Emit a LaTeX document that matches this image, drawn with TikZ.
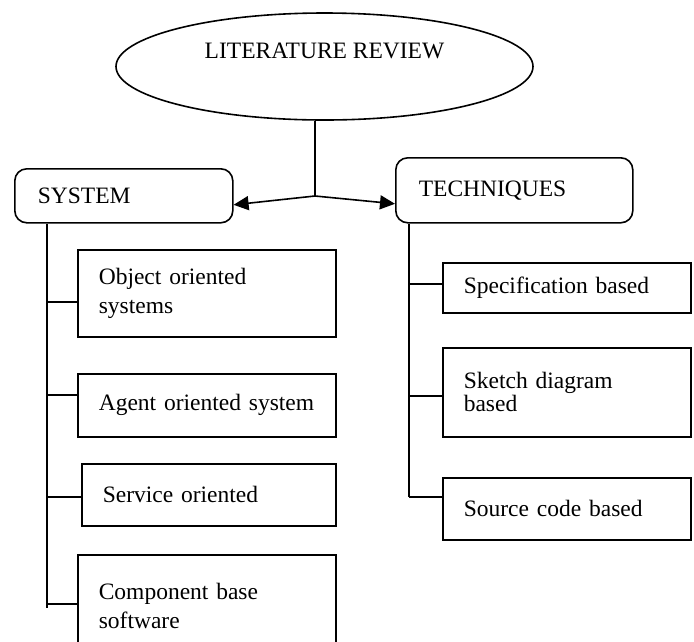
\documentclass[tikz,border=0pt]{standalone}
\usepackage{fontspec}
\setmainfont{Liberation Serif}
\usetikzlibrary{shapes.geometric,arrows.meta,calc}

\begin{document}
\begin{tikzpicture}[
    x=1pt, y=-1pt,
    line width=1.6pt,
    every node/.style={font=\fontsize{23.5}{29}\selectfont},
    review/.style={ellipse, draw, minimum width=417pt, minimum height=107pt, text depth=32.5pt},
    head/.style={rectangle, draw, rounded corners=12pt, anchor=north west, align=left, inner xsep=23pt, inner ysep=0pt},
    item/.style={rectangle, draw, anchor=north west, align=left, inner xsep=21pt, inner ysep=0pt},
    arrow/.style={-{Triangle[length=15pt, width=14pt]}}
]
\useasboundingbox (0,0) rectangle (694,641);

% top
\node[review] (lit) at (324.5,66.5) {LITERATURE REVIEW};
\coordinate (hub) at (315,196);

% two heads
\node[head, text width=172pt, minimum height=54pt] (sys) at (14,168) {SYSTEM};
\node[head, text width=191pt, minimum height=65pt] (tec) at (395,157) {TECHNIQUES};

% systems column
\node[item, text width=216pt, minimum height=87pt] (obj) at (77,249) {Object oriented\\systems};
\node[item, text width=216pt, minimum height=63pt] (agent) at (77,373) {Agent oriented system};
\node[item, text width=212pt, minimum height=62pt] (serv) at (81,463) {Service oriented};
\node[item, text width=216pt, minimum height=102pt] (comp) at (77,554) {Component base\\software};

% techniques column
\node[item, text width=206pt, minimum height=50pt] (spec) at (442,262) {Specification based};
\node[item, text width=206pt, minimum height=89pt] (sketch) at (442,347) {Sketch diagram\\[-6pt]based};
\node[item, text width=206pt, minimum height=62pt] (src) at (442,477) {Source code based};

% links
\draw (lit.south -| hub) -- (hub);
\draw[arrow] (hub) -- ($(sys.east)+(0,9)$);
\draw[arrow] (hub) -- ($(tec.west)+(0,13.5)$);

% trunks
\coordinate (ltop) at ($(sys.south west)+(33,0)$);
\coordinate (rtop) at ($(tec.south west)+(14,0)$);
\draw (ltop) -- ($(ltop |- comp.west)+(0,2)$);
\draw (rtop) -- ($(rtop |- src.west)+(0,-12)$);

% branches
\foreach \b/\d in {obj/8.5, agent/-10.5, serv/2, comp/-2}
    \draw ($(\b.west)+(0,\d)$) coordinate (t) -- (t -| ltop);
\foreach \b/\d in {spec/-4, sketch/3.5, src/-12}
    \draw ($(\b.west)+(0,\d)$) coordinate (t) -- (t -| rtop);

\end{tikzpicture}
\end{document}
